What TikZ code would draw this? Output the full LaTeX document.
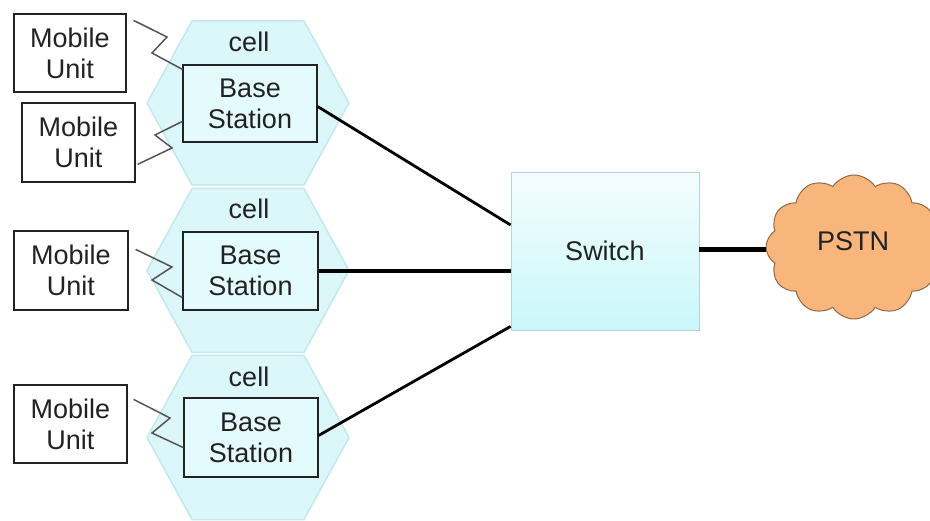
\documentclass[tikz,border=0pt]{standalone}
\usepackage{fontspec}
\setmainfont{Liberation Sans}
\usetikzlibrary{shapes.symbols,calc}
\definecolor{hexfill}{HTML}{DBF7FA}
\definecolor{hexline}{HTML}{C4E8EC}
\definecolor{bsfill}{HTML}{E4FBFD}
\definecolor{txt}{HTML}{222222}
\definecolor{cloudfill}{HTML}{F8B57C}
\definecolor{cloudline}{HTML}{8E6A48}
\definecolor{zigc}{HTML}{555555}
\tikzset{
  every node/.style={font=\fontsize{27}{31}\selectfont, text=txt, align=center, inner sep=0pt},
  mubox/.style={draw=txt, line width=1.2pt, fill=white},
  bsbox/.style={draw=txt, line width=1.2pt, fill=bsfill},
  hexcell/.style={fill=hexfill, draw=hexline, line width=1.5pt},
  zig/.style={draw=zigc, line width=1.5pt},
  link/.style={draw=black, line width=3pt},
  swbox/.style={draw=hexline!80!gray, line width=0.8pt, top color=white!70!hexfill, bottom color=hexfill!92!cyan},
  cloudnode/.style={cloud, cloud puffs=12, cloud puff arc=115, aspect=1.25, fill=cloudfill, draw=cloudline, line width=1pt}
}
\begin{document}
\begin{tikzpicture}[x=1pt,y=-1pt]
\useasboundingbox (0,0) rectangle (930,521);
% cells (hexagons)
\foreach \cy in {103,270.5,437.5}{
  \path[hexcell] (248-101,\cy) -- (248-56,\cy-82) -- (248+56,\cy-82) -- (248+101,\cy) -- (248+56,\cy+82) -- (248-56,\cy+82) -- cycle;
}
\node (cell1) at (249,42) {cell};
\node (cell2) at (249,209) {cell};
\node (cell3) at (249,377) {cell};
% base stations
\node[bsbox, minimum width=134pt, minimum height=77pt] (bs1) at (250,103.5) {Base\\Station};
\node[bsbox, minimum width=135pt, minimum height=78pt] (bs2) at (250.5,271) {Base\\Station};
\node[bsbox, minimum width=134pt, minimum height=79pt] (bs3) at (251,437.5) {Base\\Station};
% mobile units
\node[mubox, minimum width=112pt, minimum height=78pt] (mu1) at (70,53) {Mobile\\Unit};
\node[mubox, minimum width=113pt, minimum height=79pt] (mu2) at (78.5,142.5) {Mobile\\Unit};
\node[mubox, minimum width=114pt, minimum height=79pt] (mu3) at (71,270.5) {Mobile\\Unit};
\node[mubox, minimum width=113pt, minimum height=78pt] (mu4) at (70.5,424) {Mobile\\Unit};
% switch and PSTN
\node[swbox, minimum width=188pt, minimum height=158pt] (sw) at (605,251) {Switch};
\node[cloudnode, minimum width=176pt, minimum height=144pt] (pstn) at (854,247) {};
\node (pstnlbl) at (853,241) {PSTN};
% radio links
\draw[zig] ([shift={(7,7)}]mu1.north east) -- (167,37) -- (152,53) -- ([shift={(0,5)}]bs1.north west);
\draw[zig] ([shift={(0,57)}]bs1.north west) -- (155,135) -- (172,148) -- ([shift={(2,62)}]mu2.north east);
\draw[zig] ([shift={(7,19)}]mu3.north east) -- (172,267) -- (152,280) -- ([shift={(0,-13)}]bs2.south west);
\draw[zig] ([shift={(6,15)}]mu4.north east) -- (170,418) -- (152,433) -- ([shift={(0,-30)}]bs3.south west);
% wired links
\draw[link, line width=2.8pt] ([shift={(0,3)}]bs1.east) -- ([shift={(0,-26)}]sw.west);
\draw[link, line width=4.5pt] (bs2.east) -- (bs2.east -| sw.west);
\draw[link, line width=2.8pt] ([shift={(0,-2)}]bs3.east) -- ([shift={(0,-4)}]sw.south west);
\draw[link, line width=5pt] ([shift={(0,-1)}]sw.east) -- ([shift={(0,-1)}]sw.east -| pstn.west);
\end{tikzpicture}
\end{document}
